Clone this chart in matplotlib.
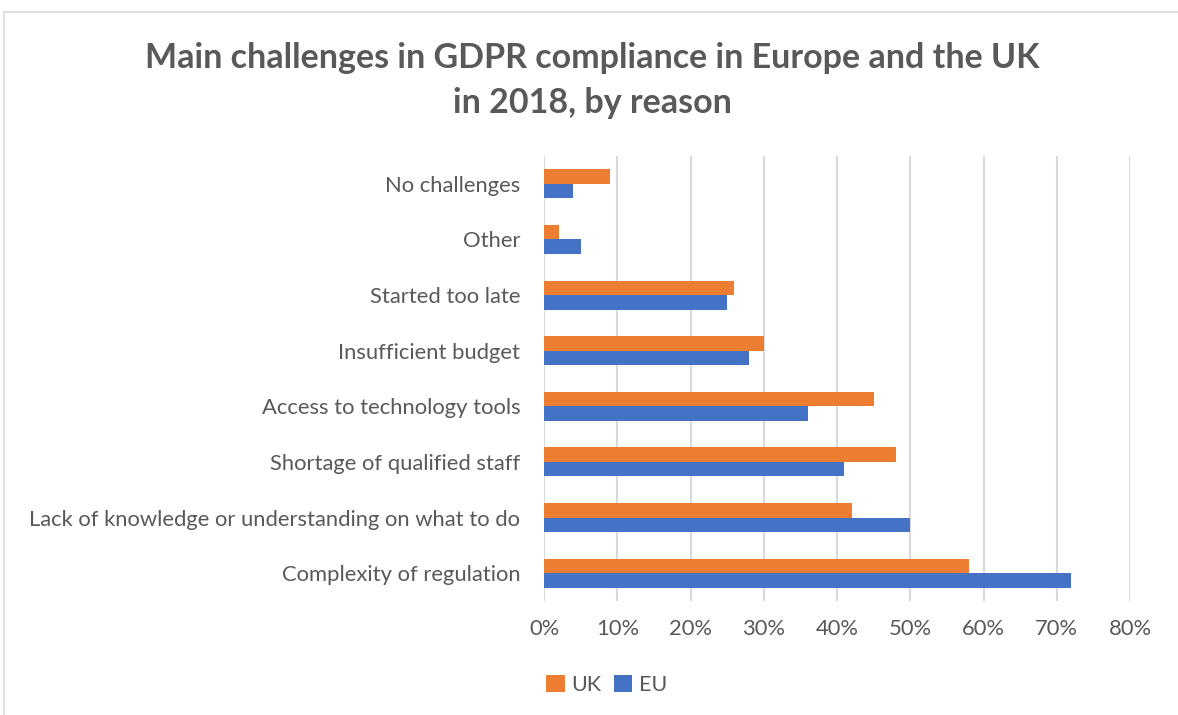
import matplotlib

matplotlib.use("Agg")
import matplotlib.pyplot as plt
import numpy as np
from matplotlib.patches import Rectangle
from matplotlib.ticker import PercentFormatter

plt.rcParams["font.family"] = ["Lato", "DejaVu Sans"]

# Bottom to top
reasons = [
    "Complexity of regulation",
    "Lack of knowledge or understanding on what to do",
    "Shortage of qualified staff",
    "Access to technology tools",
    "Insufficient budget",
    "Started too late",
    "Other",
    "No challenges",
]
uk_share = [58, 42, 48, 45, 30, 26, 2, 9]
eu_share = [72, 50, 41, 36, 28, 25, 5, 4]

x_ticks = [0, 10, 20, 30, 40, 50, 60, 70, 80]

text_color = "#595959"
uk_color = "#ED7D31"
eu_color = "#4472C4"

fig = plt.figure(figsize=(11.78, 7.15), dpi=100)

# light chart-area frame
fig.patches.append(
    Rectangle((4 / 1178, -0.01), 1.0, 1 - 12 / 715 + 0.01,
              transform=fig.transFigure, fill=False,
              edgecolor="#d9d9d9", linewidth=1.2)
)

ax = fig.add_axes([544 / 1178, 1 - 601 / 715, 586 / 1178, 445 / 715])

y = np.arange(len(reasons))
h = 0.26
ax.barh(y + h / 2, uk_share, height=h, color=uk_color, label="UK", zorder=3)
ax.barh(y - h / 2, eu_share, height=h, color=eu_color, label="EU", zorder=3)

ax.set_xlim(0, 80)
ax.set_ylim(-0.5, len(reasons) - 0.5)
ax.set_xticks(x_ticks)
ax.xaxis.set_major_formatter(PercentFormatter(decimals=0))
ax.set_yticks(y)
ax.set_yticklabels(reasons)

ax.grid(axis="x", color="#d9d9d9", linewidth=1.5, zorder=0)
for s in ax.spines.values():
    s.set_visible(False)
ax.tick_params(axis="both", length=0, colors=text_color, labelsize=15.8)
ax.tick_params(axis="y", pad=17)
ax.tick_params(axis="x", pad=13)

fig.text(0.503, 1 - 58 / 715, "Main challenges in GDPR compliance in Europe and the UK",
         ha="center", va="center", fontsize=24.5, fontweight="bold", color=text_color)
fig.text(0.503, 1 - 103 / 715, "in 2018, by reason",
         ha="center", va="center", fontsize=24.5, fontweight="bold", color=text_color)

leg = fig.legend(loc="center left", bbox_to_anchor=(527 / 1178, 1 - 685 / 715),
                 ncol=2, frameon=False, fontsize=15.5, handlelength=0.85,
                 handleheight=0.85, handletextpad=0.3, columnspacing=0.6)
for t in leg.get_texts():
    t.set_color(text_color)

fig.savefig("out.png", dpi=100)
